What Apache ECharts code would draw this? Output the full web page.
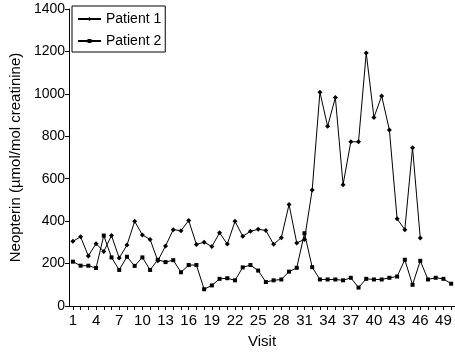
<!DOCTYPE html>
<html><head><meta charset="utf-8">
<script src="https://cdn.jsdelivr.net/npm/echarts@6/dist/echarts.min.js"></script>
<style>html,body{margin:0;padding:0;background:#fff}#c{width:455px;height:354px}</style>
</head><body><div id="c"></div>
<script>
var visits = [];
for (var i = 1; i <= 50; i++) visits.push(String(i));
var patient1 = [305,326,236,294,257,332,226,287,399,335,314,213,283,360,355,403,290,301,280,345,292,399,329,352,362,356,291,322,478,297,314,547,1008,847,983,572,774,774,1193,889,990,830,411,360,746,321,null,null,null,null];
var patient2 = [209,190,190,179,332,229,170,232,189,229,170,218,207,216,159,193,193,79,97,128,131,121,182,193,167,113,121,125,162,180,343,183,125,125,125,121,133,87,128,125,125,133,139,218,100,213,125,133,128,105];
var yTicks = {min:0, max:1400, interval:200};
var FONT = '"Liberation Sans", Arial, sans-serif';
var chart = echarts.init(document.getElementById('c'), null, {renderer:'canvas'});
chart.setOption({
  animation:false,
  backgroundColor:'#fff',
  grid:{left:58, right:0, top:9, bottom:43, containLabel:false},
  legend:{
    orient:'vertical', left:72, top:6,
    borderColor:'#000', borderWidth:1, padding:[5,4,3,5],
    itemWidth:23, itemHeight:5, itemGap:6,
    textStyle:{fontFamily:FONT, fontSize:14, color:'#000', lineHeight:16},
    data:['Patient 1','Patient 2']
  },
  xAxis:{
    type:'category', data:visits, boundaryGap:true,
    name:'Visit', nameLocation:'middle', nameGap:28,
    nameTextStyle:{fontFamily:FONT, fontSize:15, color:'#000'},
    axisLine:{lineStyle:{color:'#000', width:1}},
    axisTick:{show:true, alignWithLabel:true, interval:0, length:4, lineStyle:{color:'#000'}},
    axisLabel:{interval:2, fontFamily:FONT, fontSize:15, color:'#000', margin:7},
    splitLine:{show:false}
  },
  yAxis:{
    type:'value', min:yTicks.min, max:yTicks.max, interval:yTicks.interval,
    name:'Neopterin (\u00b5mol/mol creatinine)', nameLocation:'middle', nameGap:42, nameRotate:90,
    nameTextStyle:{fontFamily:FONT, fontSize:15, color:'#000'},
    axisLine:{show:true, lineStyle:{color:'#000', width:1}},
    axisTick:{show:true, length:4, lineStyle:{color:'#000'}},
    axisLabel:{fontFamily:FONT, fontSize:14, color:'#000', margin:4, formatter:function(v){return String(v);}},
    splitLine:{show:false}
  },
  series:[
    {name:'Patient 1', type:'line', data:patient1, symbol:'diamond', symbolSize:5, showAllSymbol:true,
     lineStyle:{color:'#000', width:1}, itemStyle:{color:'#000'}, connectNulls:false},
    {name:'Patient 2', type:'line', data:patient2, symbol:'rect', symbolSize:4, showAllSymbol:true,
     lineStyle:{color:'#000', width:1}, itemStyle:{color:'#000'}}
  ]
});
</script></body></html>
